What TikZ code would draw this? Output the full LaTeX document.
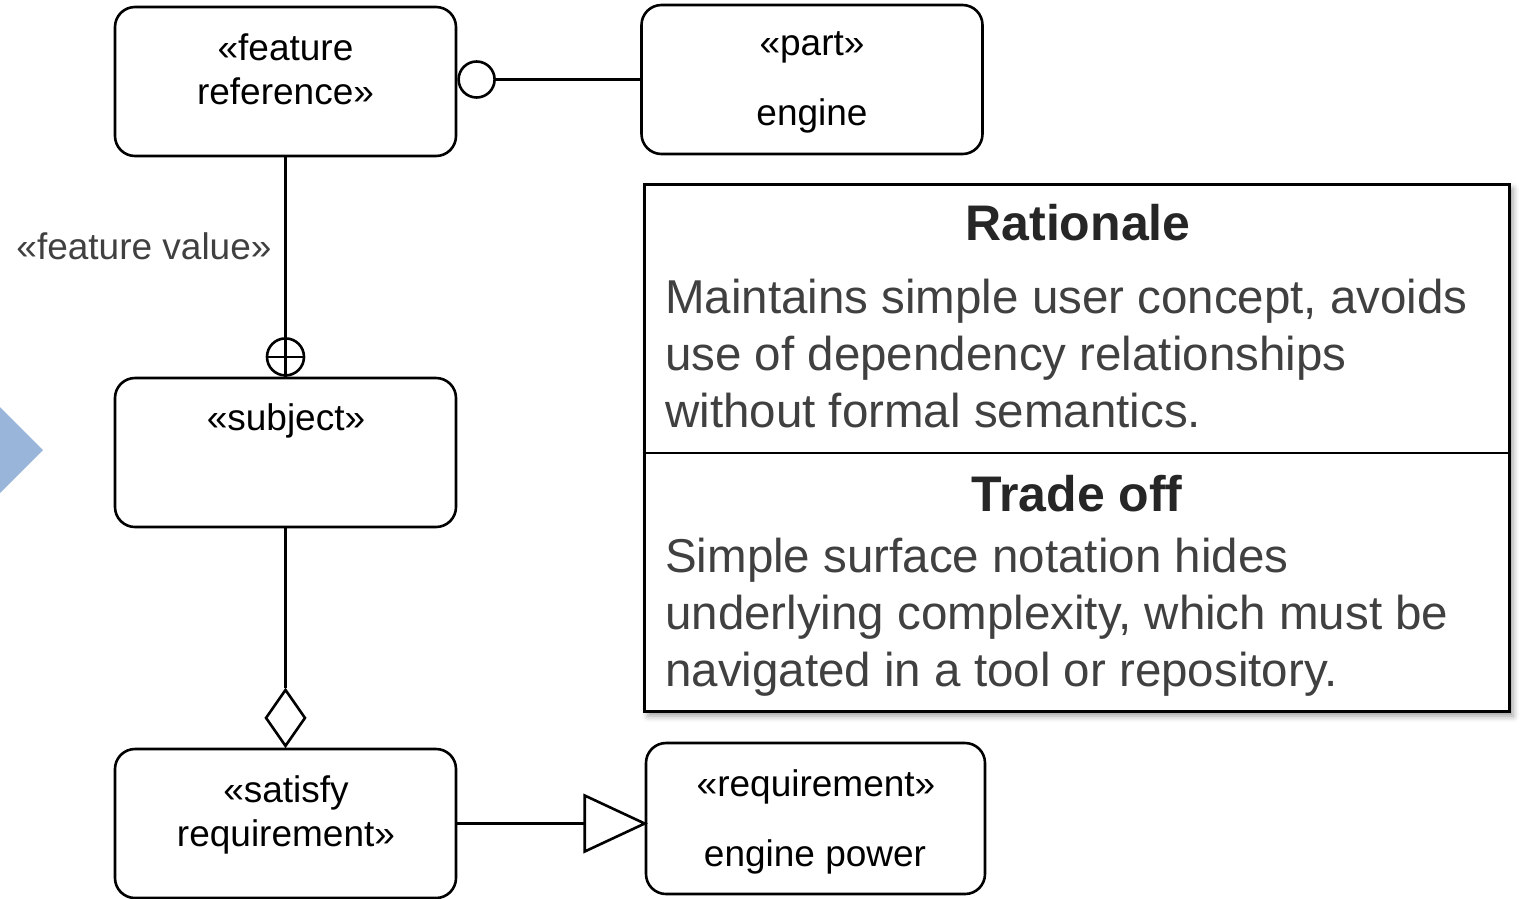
\documentclass[tikz,border=0pt]{standalone}
\usepackage{fontspec}
\setmainfont{Liberation Sans}
\usetikzlibrary{shapes.geometric,shadows.blur,calc}
\definecolor{textgrey}{HTML}{404040}
\definecolor{titlegrey}{HTML}{262626}
\definecolor{chevron}{HTML}{9AB5DA}
\tikzset{
  block/.style={draw, line width=2.6pt, rounded corners=20pt, minimum width=341pt, minimum height=149pt, inner sep=0pt},
  conn/.style={draw, line width=2.6pt},
  boxtext/.style={font=\fontsize{37}{44}\selectfont, align=center, inner sep=0pt},
  bodytext/.style={font=\fontsize{47.5}{57}\selectfont, text=textgrey, align=left, inner sep=0pt, anchor=base west},
  titletext/.style={font=\fontsize{50}{60}\selectfont\bfseries, text=titlegrey, inner sep=0pt}
}
\begin{document}
\begin{tikzpicture}[x=1pt,y=-1pt]
\useasboundingbox (0,0) rectangle (1522,898);

% chevron at the left edge
\fill[chevron] (-10,397) -- (0,407) -- (43,450) -- (0,493) -- (-10,503) -- cycle;

% blocks
\node[block] (fr) at (285.5,81.5) {};
\node[block] (part) at (812,79.5) {};
\node[block] (subj) at (285.5,452.5) {};
\node[block] (sat) at (285.5,823.5) {};
\node[block, minimum width=339pt, minimum height=151pt] (req) at (815.5,818.5) {};

% block texts
\node[boxtext] (frt) at (285.5,69) {«feature\\reference»};
\node[boxtext] (partst) at (812,47) {«part»};
\node[boxtext] (partn) at (812,116) {engine};
\node[boxtext] (subjt) at (286,421) {«subject»};
\node[boxtext] (satt) at (286,815) {«satisfy\\requirement»};
\node[boxtext] (reqst) at (816,787) {«requirement»};
\node[boxtext] (reqn) at (815,857) {engine power};

% feature reference -- part (ball end)
\node[circle, draw, line width=2.6pt, minimum size=36pt, inner sep=0pt, anchor=west] (ball) at (fr.east |- part.west) {};
\draw[conn] (ball.east) -- (part.west |- ball.east);

% feature reference -- subject (circle-plus end)
\node[circle, draw, line width=2.6pt, minimum size=37pt, inner sep=0pt, anchor=south] (cp) at (subj.north) {};
\draw[conn] (fr.south) -- (cp.south);
\draw[conn] (cp.west) -- (cp.east);
\node[font=\fontsize{37}{44}\selectfont, text=textgrey, inner sep=0pt] (fv) at (144,246) {«feature value»};

% subject -- satisfy requirement (hollow diamond)
\node[diamond, draw, line width=2.6pt, inner sep=0pt, minimum width=40pt, minimum height=57pt, anchor=south] (dia) at (sat.north) {};
\draw[conn] (subj.south) -- (dia.north);

% satisfy requirement -- requirement (hollow triangle)
\coordinate (apex) at (req.west |- sat.east);
\draw[conn, line join=miter] (apex) -- ++(-60,-28) -- ++(0,56) -- cycle;
\coordinate (tb) at ($(apex)+(-60,0)$);
\draw[conn] (sat.east) -- (tb);

% rationale panel
\node[draw, line width=3pt, fill=white, minimum width=865pt, minimum height=527pt, inner sep=0pt,
      blur shadow={shadow xshift=4pt, shadow yshift=-5pt, shadow blur radius=6pt, shadow opacity=40}] (rat) at (1076.5,447.5) {};
\draw[line width=2.4pt] (rat.west |- 0,453) coordinate (dl) -- (rat.east |- 0,453) coordinate (dr);

\node[titletext] (rt) at (1078,223) {Rationale};
\node[bodytext] (rb) at (665,427) {Maintains simple user concept, avoids\\use of dependency relationships\\without formal semantics.};
\node[titletext] (tt) at (1077,494) {Trade off};
\node[bodytext] (tb2) at (665,686) {Simple surface notation hides\\underlying complexity, which must be\\navigated in a tool or repository.};
\end{tikzpicture}
\end{document}
